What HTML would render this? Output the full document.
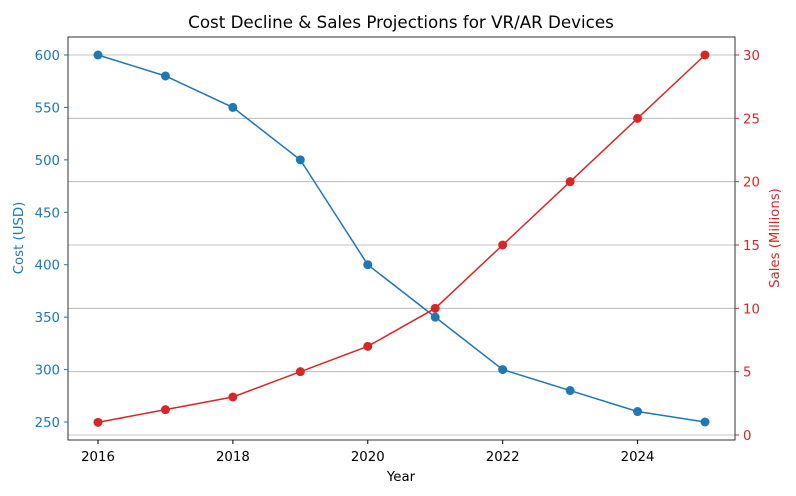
<!DOCTYPE html>
<html><head><meta charset="utf-8"><style>
body{margin:0;background:#fff;}
svg{display:block;font-family:"DejaVu Sans","Liberation Sans",sans-serif;}
</style></head><body>
<svg id="chart" width="796" height="496"></svg>
<script>
const years=[2016,2017,2018,2019,2020,2021,2022,2023,2024,2025];
const cost=[600,580,550,500,400,350,300,280,260,250];
const sales=[1,2,3,5,7,10,15,20,25,30];
const xTicks=[2016,2018,2020,2022,2024];
const costTicks=[250,300,350,400,450,500,550,600];
const salesTicks=[0,5,10,15,20,25,30];

const L=68,R=735,T=37,B=440;
const x=v=>98+(v-2016)*(705-98)/9;
const yL=v=>422-(v-250)*(422-55)/350;
const yR=v=>435-v*(435-55)/30;
const svg=document.getElementById('chart');
const NS='http://www.w3.org/2000/svg';
function mk(tag,attrs,parent){const e=document.createElementNS(NS,tag);for(const k in attrs)e.setAttribute(k,attrs[k]);(parent||svg).appendChild(e);return e;}
function txt(s,attrs){const e=mk('text',attrs);e.textContent=s;return e;}

salesTicks.forEach(v=>{const g=mk('line',{x1:L,x2:R,y1:yR(v),y2:yR(v),stroke:'#b0b0b0','stroke-width':0.8});

});

const fr=mk('rect',{x:L,y:T,width:R-L,height:B-T,fill:'none',stroke:'#000','stroke-width':0.8});



xTicks.forEach(v=>{mk('line',{x1:x(v),x2:x(v),y1:B,y2:B+4,stroke:'#000'});
const t=txt(v,{x:x(v),y:B+21,'text-anchor':'middle','font-size':13.3,fill:'#000'});

});
costTicks.forEach(v=>{mk('line',{x1:L-4,x2:L,y1:yL(v),y2:yL(v),stroke:'#1f77b4'});
const t=txt(v,{x:L-8,y:yL(v)+5,'text-anchor':'end','font-size':13.3,fill:'#1f77b4'});

});
salesTicks.forEach(v=>{mk('line',{x1:R,x2:R+4,y1:yR(v),y2:yR(v),stroke:'#d62728'});
const t=txt(v,{x:R+8,y:yR(v)+5,'font-size':13.3,fill:'#d62728'});

});

function series(vals,yf,color,name){
  const p=mk('polyline',{points:vals.map((v,i)=>x(years[i])+','+yf(v)).join(' '),fill:'none',stroke:color,'stroke-width':1.5});
  
  
  vals.forEach((v,i)=>{const c=mk('circle',{cx:x(years[i]),cy:yf(v),r:4.5,fill:color});
  
  });
}
series(cost,yL,'#1f77b4','cost');
series(sales,yR,'#d62728','sales');

let t=txt('Cost Decline & Sales Projections for VR/AR Devices',{x:401,y:28,'text-anchor':'middle','font-size':16.7,fill:'#000'});


t=txt('Year',{x:401,y:481,'text-anchor':'middle','font-size':13.3,fill:'#000'});


t=txt('Cost (USD)',{x:23,y:238,'text-anchor':'middle','font-size':13.3,fill:'#1f77b4',transform:'rotate(-90 23 238)'});


t=txt('Sales (Millions)',{x:779,y:238,'text-anchor':'middle','font-size':13.3,fill:'#d62728',transform:'rotate(-90 779 238)'});


</script>
</body></html>
